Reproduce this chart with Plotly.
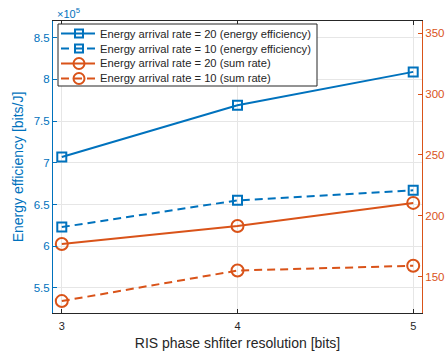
import plotly.graph_objects as go

resolution = [3, 4, 5]
ee_rate20 = [7.07e5, 7.69e5, 8.09e5]
ee_rate10 = [6.23e5, 6.55e5, 6.67e5]
sr_rate20 = [176.7, 191.5, 210.5]
sr_rate10 = [129.8, 154.9, 158.8]

series_names = [
    "Energy arrival rate = 20 (energy efficiency)",
    "Energy arrival rate = 10 (energy efficiency)",
    "Energy arrival rate = 20 (sum rate)",
    "Energy arrival rate = 10 (sum rate)",
]

left_ticks = [5.5, 6, 6.5, 7, 7.5, 8, 8.5]
right_ticks = [150, 200, 250, 300, 350]
x_ticks = [3, 4, 5]

BLUE = "#0072BD"
ORANGE = "#D95319"
DARK = "#262626"
FONT = "Liberation Sans, Arial, sans-serif"
DASH = "8px,5px"

W, H = 446, 356
ML, MR, MT, MB = 53, 24, 21, 43
PW, PH = W - ML - MR, H - MT - MB


def px(x):
    return (x - ML) / PW


def py(y):
    return (H - MB - y) / PH


styles = [
    dict(color=BLUE, dash="solid", symbol="square-open", size=9, axis="y"),
    dict(color=BLUE, dash=DASH, symbol="square-open", size=9, axis="y"),
    dict(color=ORANGE, dash="solid", symbol="circle-open", size=12, axis="y2"),
    dict(color=ORANGE, dash=DASH, symbol="circle-open", size=12, axis="y2"),
]
values = [ee_rate20, ee_rate10, sr_rate20, sr_rate10]

fig = go.Figure()
for name, vals, st in zip(series_names, values, styles):
    fig.add_trace(go.Scatter(
        x=resolution, y=vals, mode="lines+markers", name=name, yaxis=st["axis"],
        showlegend=False,
        line=dict(color=st["color"], width=2, dash=st["dash"]),
        marker=dict(symbol=st["symbol"], size=st["size"], color=st["color"],
                    line=dict(width=2, color=st["color"]))))

# Hand-built legend (compact rows, MATLAB-like)
shapes = []
annotations = []
box_x0, box_x1, box_y0, box_y1 = 58, 317, 24, 86
shapes.append(dict(type="rect", xref="paper", yref="paper",
                   x0=px(box_x0), x1=px(box_x1), y0=py(box_y1), y1=py(box_y0),
                   fillcolor="white", line=dict(color=DARK, width=1), layer="above"))
row_y = [33.5, 48.5, 63.5, 78.5]
for name, st, ry in zip(series_names, styles, row_y):
    shapes.append(dict(type="line", xref="paper", yref="paper",
                       x0=px(61), x1=px(95), y0=py(ry), y1=py(ry),
                       line=dict(color=st["color"], width=2, dash=st["dash"]), layer="above"))
    if st["symbol"].startswith("square"):
        r = 4
        shapes.append(dict(type="rect", xref="paper", yref="paper",
                           x0=px(79 - r), x1=px(79 + r), y0=py(ry + r), y1=py(ry - r),
                           line=dict(color=st["color"], width=2), layer="above"))
    else:
        r = 5.5
        shapes.append(dict(type="circle", xref="paper", yref="paper",
                           x0=px(79 - r), x1=px(79 + r), y0=py(ry + r), y1=py(ry - r),
                           line=dict(color=st["color"], width=2), layer="above"))
    annotations.append(dict(text=name, xref="paper", yref="paper", x=px(98), y=py(ry),
                            xanchor="left", yanchor="middle", showarrow=False,
                            font=dict(size=11.2, color=DARK, family=FONT)))

annotations.append(dict(text="\u00d710<sup>5</sup>", xref="paper", yref="paper", x=px(55), y=py(21),
                        xanchor="left", yanchor="bottom", showarrow=False,
                        font=dict(size=11, color=BLUE, family=FONT), yshift=-1))

fig.update_layout(
    width=W, height=H,
    margin=dict(l=ML, r=MR, t=MT, b=MB, autoexpand=False),
    paper_bgcolor="white", plot_bgcolor="white",
    font=dict(family=FONT, color=DARK, size=11),
    showlegend=False,
    shapes=shapes,
    annotations=annotations,
    xaxis=dict(range=[2.95, 5.05], tickvals=x_ticks, ticktext=[str(v) for v in x_ticks],
               automargin=False, ticklabelstandoff=3,
               showline=True, linecolor=DARK, linewidth=1, mirror="ticks",
               ticks="inside", ticklen=4, tickcolor=DARK,
               showgrid=True, gridcolor="#E6E6E6", gridwidth=1, zeroline=False,
               tickfont=dict(size=11, color=DARK),
               title=dict(text="RIS phase shfiter resolution [bits]", font=dict(size=14, color=DARK), standoff=6)),
    yaxis=dict(range=[5.2e5, 8.7e5], tickvals=[v * 1e5 for v in left_ticks],
               ticktext=[f"{v:g}" for v in left_ticks],
               automargin=False,
               showline=True, linecolor=BLUE, linewidth=1,
               ticks="inside", ticklen=4, tickcolor=BLUE,
               showgrid=True, gridcolor="#E6E6E6", gridwidth=1, zeroline=False,
               tickfont=dict(size=11.5, color=BLUE),
               title=dict(text="Energy efficiency [bits/J]", font=dict(size=14, color=BLUE), standoff=6)),
    yaxis2=dict(range=[120, 360], tickvals=right_ticks, overlaying="y", side="right",
                automargin=False,
                showline=True, linecolor=ORANGE, linewidth=1,
                ticks="inside", ticklen=4, tickcolor=ORANGE,
                showgrid=False, zeroline=False,
                tickfont=dict(size=11.5, color=ORANGE)),
)

fig.write_html("out.html", config={"displayModeBar": False},
               post_script="document.body.style.margin='0';")
